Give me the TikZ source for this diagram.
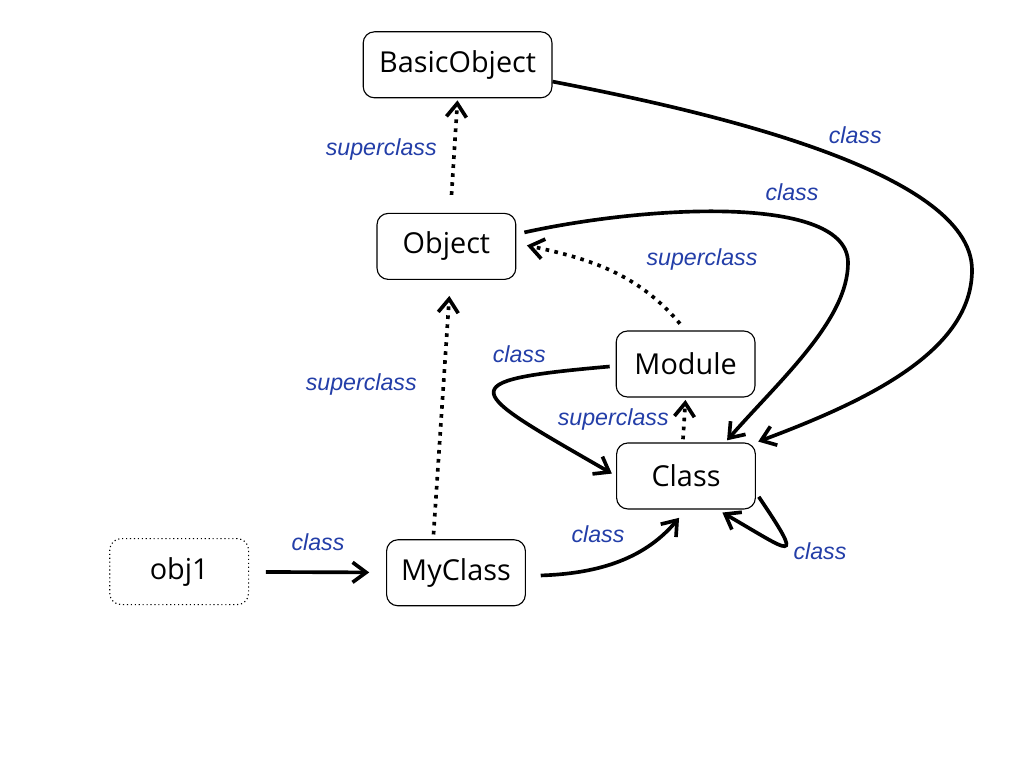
\documentclass[tikz,border=0pt]{standalone}
\usepackage{fontspec}
\setmainfont{Open Sans}
\newfontfamily\lblfont{Liberation Sans}
\usetikzlibrary{arrows.meta,positioning}
\definecolor{LabelBlue}{RGB}{35,62,168}

\begin{document}
\begin{tikzpicture}[
  clsbox/.style={
    rectangle, draw=black, line width=0.8pt, fill=white, rounded corners=8pt,
    minimum width=3.47cm, minimum height=1.65cm, align=center,
    font=\fontsize{20.5}{22}\selectfont
  },
  objbox/.style={clsbox, dotted},
  arr/.style={-{Straight Barb[length=3.4mm,width=5mm]}, line width=2.6pt, black},
  suparr/.style={arr, dash pattern=on 2.6pt off 3.8pt},
  lbl/.style={font=\lblfont\itshape\fontsize{16.5}{18}\selectfont, text=LabelBlue}
]
\useasboundingbox (0,0) rectangle (25.6,19.2);

% --- class hierarchy
\node[clsbox, minimum width=4.72cm] (basic)   at (11.44, 17.58) {BasicObject};
\node[clsbox]                       (object)  at (11.16, 13.04) {Object};
\node[clsbox]                       (module)  at (17.14, 10.10) {Module};
\node[clsbox]                       (class)   at (17.15,  7.30) {Class};
\node[clsbox]                       (myclass) at (11.40,  4.88) {MyClass};

% --- instance
\node[objbox] (obj1) at (4.48, 4.91) {obj1};

% --- Arrows: superclass
\draw[suparr, shorten <=0.45cm, shorten >=0.05cm] ([xshift=0.1cm]object.north) -- (basic.south);
\draw[suparr, shorten <=0.12cm, shorten >=0.4cm] ([xshift=-0.57cm]myclass.north) -- ([xshift=0.1cm]object.south);
\draw[suparr, shorten <=0.22cm, shorten >=0.27cm] (module.north) to[out=130, in=-12] ([yshift=0.08cm]object.east);
\draw[suparr, shorten <=0.08cm, shorten >=0.06cm] ([xshift=-0.08cm]class.north) -- (module.south);

% --- Arrows: class
\draw[arr, shorten <=0.42cm, shorten >=0.42cm] (obj1) -- (myclass);
\draw[arr, shorten <=0.37cm, shorten >=0.27cm] ([yshift=-0.08cm]myclass.east) to[out=2, in=-130] (class.south);
\draw[arr, shorten <=0.15cm, shorten >=0.12cm] ([yshift=-0.05cm]module.west) to[out=185, in=150, looseness=4] (class.west);
\draw[arr, shorten >=0.07cm] ([shift={(0.2cm,0.35cm)}]object.east)
  .. controls (16.25,14.08) and (21.2,14.33) .. (21.2,12.63)
  .. controls (21.2,11.2) and (19.5,9.7) .. ([xshift=0.98cm]class.north);
\draw[arr, shorten >=0.06cm] ([yshift=-0.42cm]basic.east)
  .. controls (17.5,16.45) and (24.3,14.95) .. (24.3,12.45)
  .. controls (24.3,10.45) and (21.75,9.2) .. (class.north east);
\draw[arr, shorten >=0.15cm] ([shift={(0.07cm,-0.52cm)}]class.east) to[out=-56, in=-30, looseness=5] ([xshift=0.78cm]class.south);

% --- Labels
\node[lbl] (lsupbasic)  at (9.53, 15.45) {superclass};
\node[lbl] (lsupobj)    at (9.03,  9.58) {superclass};
\node[lbl] (lsupmod)    at (17.55, 12.70) {superclass};
\node[lbl] (lsupcls)    at (15.33,  8.70) {superclass};
\node[lbl] (lclsbasic)  at (21.38, 15.83) {class};
\node[lbl] (lclsobj)    at (19.80, 14.40) {class};
\node[lbl] (lclsmod)    at (12.98, 10.35) {class};
\node[lbl] (lclsobj1)   at (7.95,  5.65) {class};
\node[lbl] (lclsmy)     at (14.95,  5.85) {class};
\node[lbl] (lclsself)   at (20.50,  5.43) {class};

\end{tikzpicture}
\end{document}
